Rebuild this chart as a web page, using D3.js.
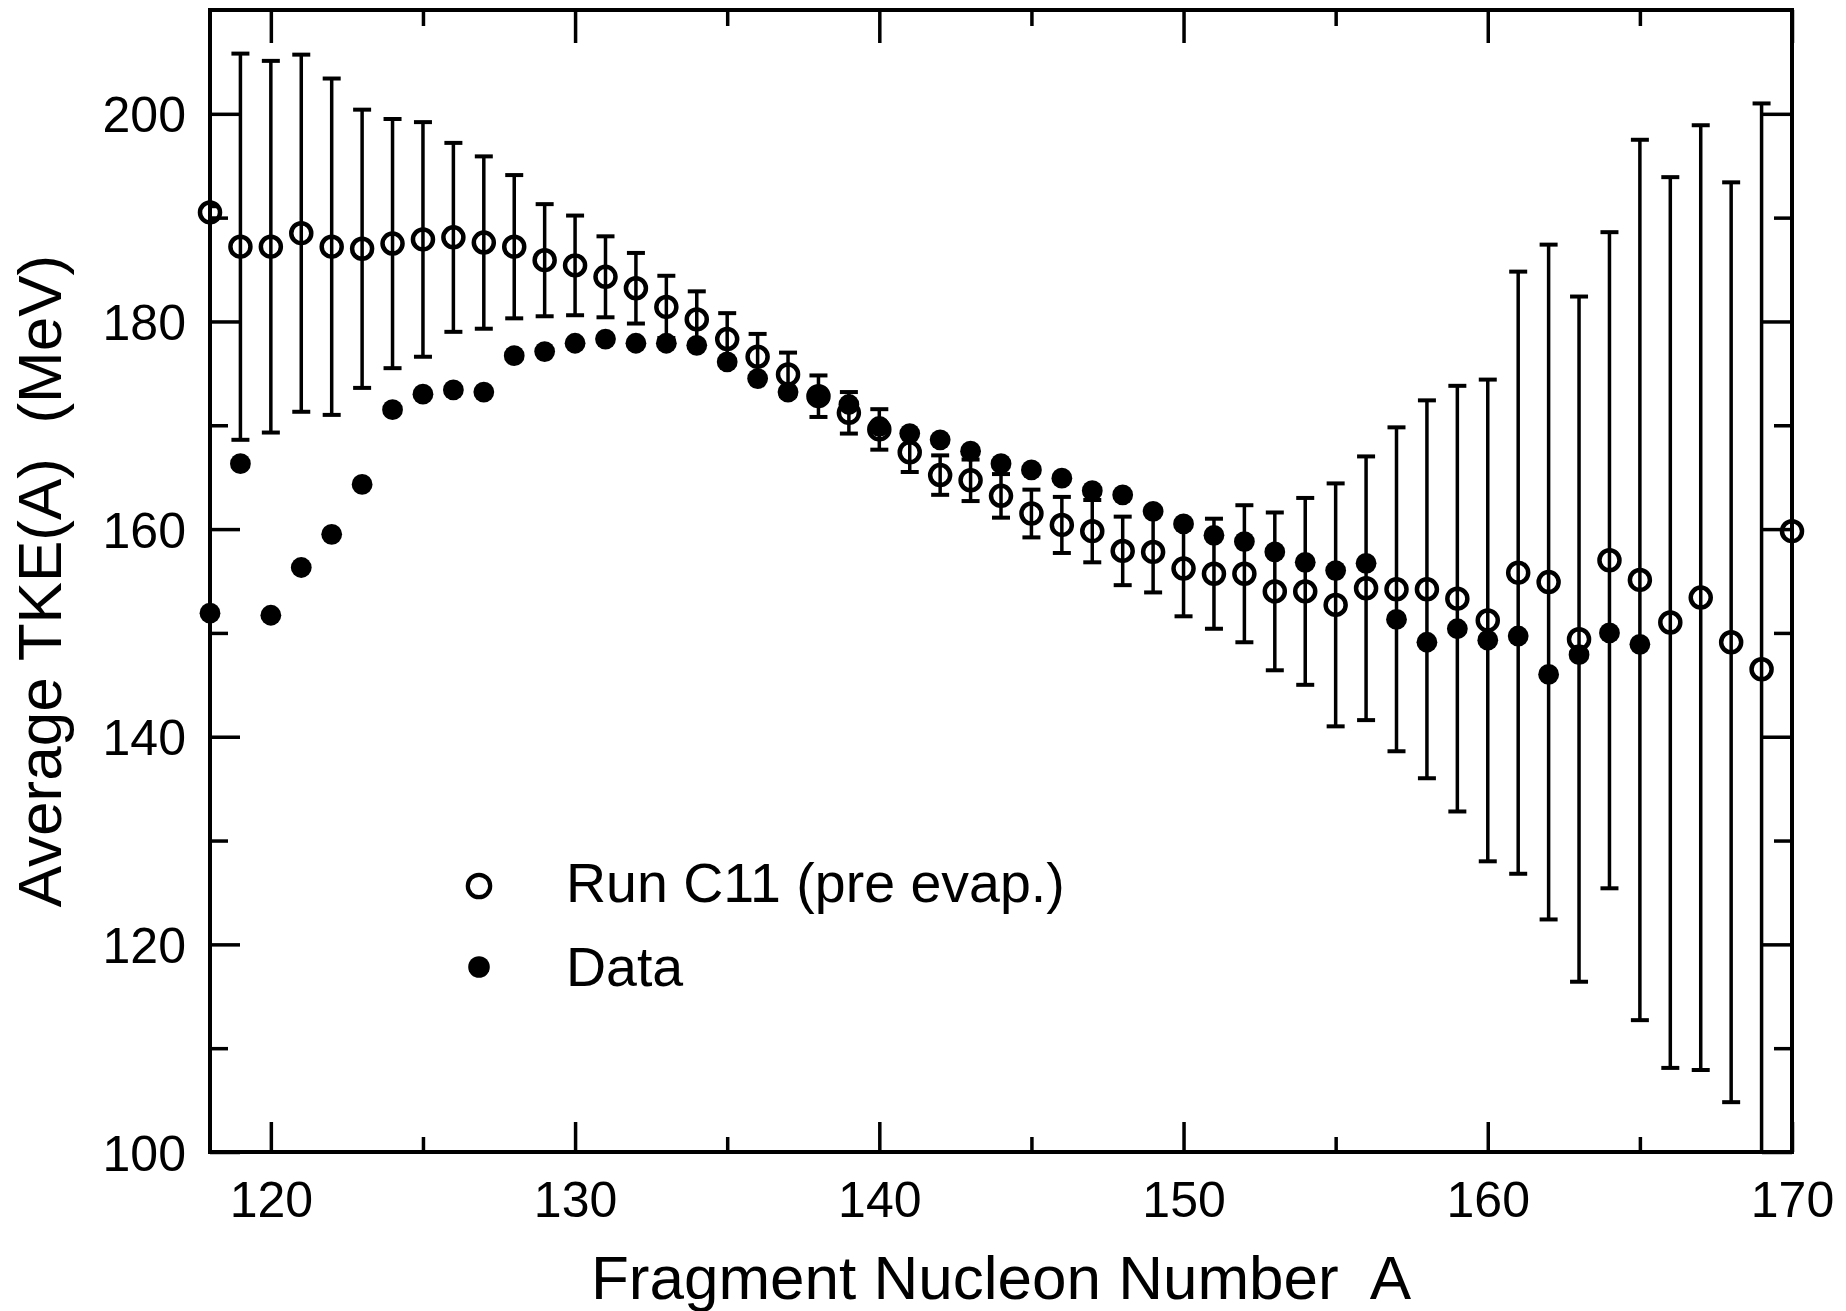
<!DOCTYPE html>
<html>
<head>
<meta charset="utf-8">
<script src="https://cdn.jsdelivr.net/npm/d3@7"></script>
<style>
  body { margin: 0; background: #fff; }
  svg text { font-family: "Liberation Sans", Arial, Helvetica, sans-serif; fill: #000; white-space: pre; }
</style>
</head>
<body>
<div class="chart"></div>
<script>
// calculated TKE (Run C11, pre evaporation), A = 118..170
var runA = d3.range(118, 171);
var runTKE = [190.5, 187.2, 187.2, 188.5, 187.2, 187.0, 187.5, 187.9, 188.1, 187.6,
  187.2, 185.9, 185.4, 184.3, 183.2, 181.4, 180.2, 178.3, 176.6, 174.9,
  172.8, 171.2, 169.6, 167.4, 165.2, 164.7, 163.2, 161.5, 160.4, 159.8,
  157.9, 157.8, 156.2, 155.7, 155.7, 154.0, 154.0, 152.7, 154.3, 154.2,
  154.2, 153.3, 151.2, 155.8, 154.9, 149.4, 157.0, 155.1, 151.0, 153.4,
  149.1, 146.5, 159.8];
var runErr = [0.6, 18.6, 17.9, 17.2, 16.2, 13.4, 12.0, 11.3, 9.1, 8.3,
  6.9, 5.4, 4.8, 3.9, 3.4, 3.0, 2.7, 2.5, 2.2, 2.1,
  2.0, 2.0, 1.95, 1.9, 1.9, 2.0, 2.1, 2.3, 2.7, 3.0,
  3.3, 3.9, 4.6, 5.3, 6.6, 7.6, 9.0, 11.7, 12.7, 15.6,
  18.2, 20.5, 23.2, 29.0, 32.5, 33.0, 31.6, 42.4, 42.9, 45.5,
  44.3, 54.5, 0];

// measured data, A = 118..165
var dataA = d3.range(118, 166);
var dataTKE = [151.9, 166.3, 151.7, 156.3, 159.5, 164.3, 171.5, 173.0, 173.4, 173.2,
  176.7, 177.1, 177.9, 178.3, 177.9, 177.9, 177.7, 176.1, 174.5, 173.2,
  172.8, 172.0, 169.9, 169.2, 168.6, 167.5, 166.3, 165.7, 164.9, 163.7,
  163.3, 161.7, 160.5, 159.4, 158.8, 157.8, 156.8, 156.0, 156.7, 151.3,
  149.1, 150.4, 149.3, 149.7, 146.0, 147.9, 150.0, 148.9];

var xMajor = [120, 130, 140, 150, 160, 170];
var xMinor = [125, 135, 145, 155, 165];
var yMajor = [100, 120, 140, 160, 180, 200];
var yMinor = [110, 130, 150, 170, 190];

var legendLabels = ["Run C11 (pre evap.)", "Data"];

var W = 1846, H = 1311;
var pL = 210, pR = 1792, pT = 10, pB = 1152;

var svg = d3.select('.chart').append('svg').attr('width', W).attr('height', H);

var x = d3.scaleLinear().domain([118, 170]).range([pL, pR]);
var y = d3.scaleLinear().domain([100, 210]).range([pB, pT]);

svg.append('clipPath').attr('id', 'plotclip')
  .append('rect').attr('x', pL).attr('y', pT).attr('width', pR - pL).attr('height', pB - pT);

function styleAxis(g) {
  g.select('.domain').remove();
  g.selectAll('.tick line').attr('stroke', '#000').attr('stroke-width', 3.5);
}

// bottom
svg.append('g').attr('transform', 'translate(0,' + pB + ')')
  .call(d3.axisBottom(x).tickValues(xMajor).tickSize(-30).tickFormat(d3.format('d')))
  .call(styleAxis)
  .call(function(g) {
    g.selectAll('.tick text').attr('y', 65).attr('dy', null)
      .style('font-size', '50px');
  });
svg.append('g').attr('transform', 'translate(0,' + pB + ')')
  .call(d3.axisBottom(x).tickValues(xMinor).tickSize(-15).tickFormat(''))
  .call(styleAxis);

// top
svg.append('g').attr('transform', 'translate(0,' + pT + ')')
  .call(d3.axisTop(x).tickValues(xMajor).tickSize(-33).tickFormat(''))
  .call(styleAxis);
svg.append('g').attr('transform', 'translate(0,' + pT + ')')
  .call(d3.axisTop(x).tickValues(xMinor).tickSize(-16).tickFormat(''))
  .call(styleAxis);

// left
svg.append('g').attr('transform', 'translate(' + pL + ',0)')
  .call(d3.axisLeft(y).tickValues(yMajor).tickSize(-30).tickFormat(d3.format('d')))
  .call(styleAxis)
  .call(function(g) {
    g.selectAll('.tick text').attr('x', -24).attr('dy', null).attr('y', 18)
      .style('font-size', '50px');
  });
svg.append('g').attr('transform', 'translate(' + pL + ',0)')
  .call(d3.axisLeft(y).tickValues(yMinor).tickSize(-18).tickFormat(''))
  .call(styleAxis);

// right
svg.append('g').attr('transform', 'translate(' + pR + ',0)')
  .call(d3.axisRight(y).tickValues(yMajor).tickSize(-30).tickFormat(''))
  .call(styleAxis);
svg.append('g').attr('transform', 'translate(' + pR + ',0)')
  .call(d3.axisRight(y).tickValues(yMinor).tickSize(-18).tickFormat(''))
  .call(styleAxis);

// frame
svg.append('rect')
  .attr('x', pL).attr('y', pT).attr('width', pR - pL).attr('height', pB - pT)
  .attr('fill', 'none').attr('stroke', '#000').attr('stroke-width', 4);

// error bars
var run = runA.map(function(a, i) { return { a: a, v: runTKE[i], e: runErr[i] }; });
var bars = svg.append('g').attr('clip-path', 'url(#plotclip)')
  .attr('stroke', '#000').attr('stroke-width', 3.5).attr('fill', 'none');
var capW = 9;
run.filter(function(d) { return d.e > 0; }).forEach(function(d) {
  var cx = x(d.a), y0 = y(d.v - d.e), y1 = y(d.v + d.e);
  bars.append('line').attr('x1', cx).attr('x2', cx).attr('y1', y0).attr('y2', y1);
  bars.append('line').attr('x1', cx - capW).attr('x2', cx + capW).attr('y1', y0).attr('y2', y0).attr('stroke-width', 4);
  bars.append('line').attr('x1', cx - capW).attr('x2', cx + capW).attr('y1', y1).attr('y2', y1).attr('stroke-width', 4);
});

// open circles
svg.append('g').selectAll('circle')
  .data(run)
  .enter()
  .append('circle')
  .attr('cx', function(d) { return x(d.a); })
  .attr('cy', function(d) { return y(d.v); })
  .attr('r', 10)
  .attr('fill', 'none').attr('stroke', '#000').attr('stroke-width', 4.5);

// data
svg.append('g').selectAll('circle')
  .data(dataA.map(function(a, i) { return { a: a, v: dataTKE[i] }; }))
  .enter()
  .append('circle')
  .attr('cx', function(d) { return x(d.a); })
  .attr('cy', function(d) { return y(d.v); })
  .attr('r', 10.4)
  .attr('fill', '#000');

// legend
var lg = svg.append('g');
lg.append('circle').attr('cx', 479).attr('cy', 886).attr('r', 11.2)
  .attr('fill', 'none').attr('stroke', '#000').attr('stroke-width', 4.2);
lg.append('circle').attr('cx', 479).attr('cy', 967).attr('r', 10.8).attr('fill', '#000');
lg.selectAll('text')
  .data(legendLabels)
  .enter()
  .append('text')
  .attr('x', 566)
  .attr('y', function(d, i) { return 902 + i * 84; })
  .style('font-size', '55.5px')
  .text(function(d) { return d; });

// axis titles
svg.append('text')
  .attr('x', (pL + pR) / 2).attr('y', 1299)
  .attr('text-anchor', 'middle').style('font-size', '62px')
  .text('Fragment Nucleon Number  A');
svg.append('text')
  .attr('transform', 'translate(61,' + ((pT + pB) / 2) + ') rotate(-90)')
  .attr('text-anchor', 'middle').style('font-size', '62px')
  .text('Average TKE(A)  (MeV)');
</script>
</body>
</html>
